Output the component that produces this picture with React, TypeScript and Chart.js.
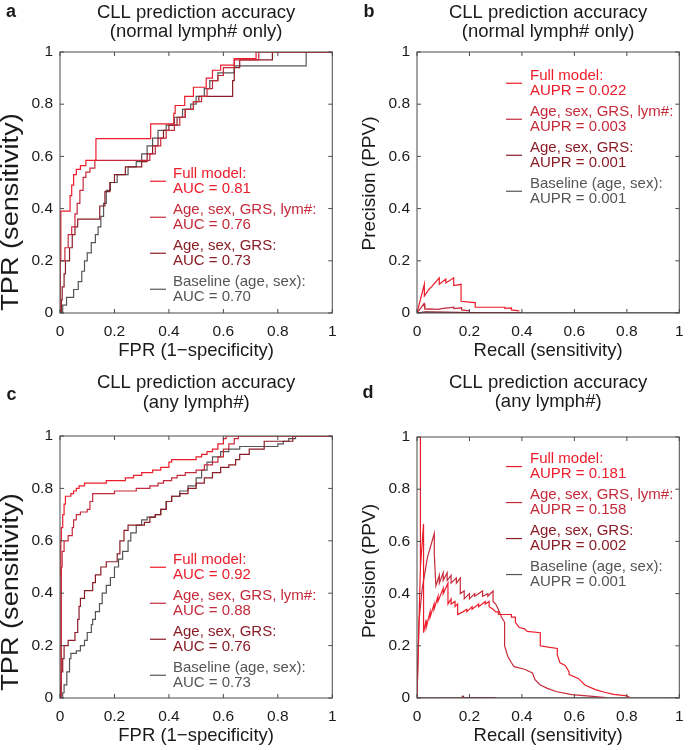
import React, { useEffect, useRef } from 'react';
import { Chart, registerables } from 'chart.js';
Chart.register(...registerables);

type Pt = [number, number];

const FONT = '"Liberation Sans", Arial, Helvetica, sans-serif';
const TEXT_COLOR = '#1a1a1a';
const AXIS_COLOR = '#4a4a4a';

const SERIES_NAMES = ['Full model:', 'Age, sex, GRS, lym#:', 'Age, sex, GRS:', 'Baseline (age, sex):'];
const SERIES_COLORS = ['#ec1c2a', '#c52a3a', '#8a1c26', '#555555'];
const AUC_NORMAL = ['0.81', '0.76', '0.73', '0.70'];
const AUPR_NORMAL = ['0.022', '0.003', '0.001', '0.001'];
const AUC_ANY = ['0.92', '0.88', '0.76', '0.73'];
const AUPR_ANY = ['0.181', '0.158', '0.002', '0.001'];
const TITLE_MAIN = 'CLL prediction accuracy';
const SUB_NORMAL = '(normal lymph# only)';
const SUB_ANY = '(any lymph#)';
const TICK_VALUES = [0, 0.2, 0.4, 0.6, 0.8, 1];
const TICK_LABELS = ['0', '0.2', '0.4', '0.6', '0.8', '1'];

// ROC curves: (FPR at which TPR rises, new TPR)
const ROC_A_FULL: Pt[] = [[0,0],[0,0.2],[0.003,0.3],[0.003,0.39],[0.037,0.45],[0.043,0.49],[0.05,0.53],[0.06,0.55],[0.075,0.565],[0.095,0.585],[0.132,0.668],[0.333,0.725],[0.418,0.765],[0.423,0.795],[0.458,0.83],[0.49,0.865],[0.537,0.9],[0.56,0.93],[0.59,0.95],[0.64,0.975],[0.72,1],[1,1]];
const ROC_A_LYM: Pt[] = [[0,0],[0,0.2],[0.018,0.25],[0.03,0.3],[0.043,0.33],[0.055,0.38],[0.063,0.42],[0.073,0.47],[0.085,0.52],[0.095,0.54],[0.11,0.555],[0.128,0.585],[0.33,0.61],[0.35,0.64],[0.37,0.67],[0.39,0.7],[0.42,0.72],[0.44,0.75],[0.46,0.78],[0.49,0.81],[0.52,0.83],[0.54,0.86],[0.56,0.89],[0.58,0.91],[0.6,0.94],[0.64,0.97],[0.73,1],[1,1]];
const ROC_A_GRS: Pt[] = [[0,0],[0.005,0.05],[0.008,0.1],[0.015,0.15],[0.02,0.2],[0.035,0.25],[0.045,0.3],[0.055,0.33],[0.065,0.36],[0.146,0.41],[0.165,0.465],[0.183,0.5],[0.2,0.53],[0.24,0.56],[0.3,0.58],[0.32,0.61],[0.34,0.64],[0.36,0.67],[0.38,0.7],[0.4,0.72],[0.43,0.75],[0.46,0.78],[0.49,0.81],[0.51,0.83],[0.634,0.89],[0.64,0.94],[0.66,0.97],[0.78,1],[1,1]];
const ROC_A_BASE: Pt[] = [[0,0],[0.01,0.03],[0.024,0.06],[0.05,0.09],[0.067,0.12],[0.08,0.16],[0.09,0.2],[0.1,0.23],[0.115,0.27],[0.13,0.3],[0.14,0.33],[0.15,0.37],[0.16,0.42],[0.17,0.47],[0.185,0.5],[0.21,0.53],[0.25,0.56],[0.28,0.58],[0.3,0.61],[0.32,0.64],[0.34,0.67],[0.36,0.7],[0.39,0.72],[0.42,0.75],[0.45,0.78],[0.48,0.8],[0.5,0.83],[0.53,0.86],[0.55,0.89],[0.58,0.92],[0.64,0.947],[0.904,1],[1,1]];

const ROC_C_FULL: Pt[] = [[0,0],[0,0.47],[0.003,0.6],[0.005,0.65],[0.01,0.7],[0.015,0.74],[0.02,0.77],[0.04,0.78],[0.05,0.79],[0.06,0.8],[0.07,0.81],[0.09,0.82],[0.17,0.83],[0.24,0.84],[0.27,0.85],[0.3,0.86],[0.34,0.87],[0.37,0.88],[0.4,0.9],[0.41,0.91],[0.5,0.92],[0.52,0.93],[0.54,0.94],[0.56,0.95],[0.58,0.97],[0.6,0.99],[0.61,1],[1,1]];
const ROC_C_LYM: Pt[] = [[0,0],[0.005,0.5],[0.008,0.56],[0.015,0.6],[0.03,0.62],[0.045,0.65],[0.05,0.68],[0.06,0.7],[0.075,0.71],[0.1,0.72],[0.11,0.75],[0.12,0.78],[0.2,0.79],[0.28,0.8],[0.33,0.81],[0.36,0.82],[0.38,0.83],[0.41,0.84],[0.43,0.85],[0.46,0.86],[0.5,0.87],[0.53,0.89],[0.56,0.9],[0.58,0.92],[0.6,0.95],[0.62,0.97],[0.64,0.99],[0.655,1],[1,1]];
const ROC_C_GRS: Pt[] = [[0,0],[0.002,0.05],[0.005,0.1],[0.01,0.15],[0.015,0.2],[0.03,0.22],[0.055,0.25],[0.065,0.3],[0.07,0.35],[0.075,0.38],[0.09,0.41],[0.12,0.44],[0.13,0.47],[0.15,0.5],[0.17,0.52],[0.21,0.55],[0.22,0.6],[0.235,0.64],[0.25,0.66],[0.31,0.67],[0.33,0.69],[0.35,0.7],[0.37,0.72],[0.39,0.75],[0.41,0.77],[0.44,0.78],[0.47,0.8],[0.5,0.82],[0.53,0.84],[0.56,0.86],[0.59,0.88],[0.62,0.89],[0.645,0.91],[0.66,0.93],[0.695,0.95],[0.75,0.98],[0.855,1],[1,1]];
const ROC_C_BASE: Pt[] = [[0,0],[0.01,0.02],[0.015,0.05],[0.025,0.1],[0.035,0.15],[0.04,0.17],[0.06,0.18],[0.075,0.2],[0.09,0.22],[0.1,0.25],[0.115,0.28],[0.12,0.3],[0.13,0.33],[0.145,0.36],[0.155,0.4],[0.17,0.43],[0.185,0.46],[0.2,0.5],[0.215,0.53],[0.23,0.56],[0.25,0.6],[0.26,0.63],[0.28,0.66],[0.3,0.68],[0.32,0.69],[0.35,0.7],[0.37,0.72],[0.39,0.75],[0.41,0.77],[0.44,0.79],[0.47,0.81],[0.5,0.84],[0.52,0.87],[0.54,0.9],[0.56,0.92],[0.59,0.94],[0.62,0.95],[0.66,0.96],[0.8,0.97],[0.82,0.98],[0.84,0.99],[0.865,1],[1,1]];

// Precision-recall curves: (recall, precision) vertices
const PR_B_FULL: Pt[] = [[0,0],[0.028,0.11],[0.028,0.065],[0.045,0.09],[0.055,0.1],[0.085,0.135],[0.085,0.11],[0.11,0.13],[0.11,0.115],[0.14,0.135],[0.14,0.105],[0.168,0.11],[0.168,0.045],[0.2,0.042],[0.222,0.04],[0.222,0.022],[0.335,0.022],[0.335,0.018],[0.36,0.02],[0.36,0.012],[0.39,0.008]];
const PR_B_LYM: Pt[] = [[0,0],[0.027,0.036],[0.03,0.015],[0.05,0.016],[0.08,0.014],[0.1,0.018],[0.12,0.02],[0.14,0.022],[0.14,0.017],[0.17,0.02],[0.17,0.012],[0.2,0.008]];
const PR_B_GRS: Pt[] = [[0,0],[0.03,0.004],[0.1,0.003],[0.2,0.002],[0.4,0.001]];
const PR_B_BASE: Pt[] = [[0,0],[0.2,0.001],[1,0.001]];

const PR_D_FULL: Pt[] = [[0,0],[0.013,0.5],[0.013,1],[0.013,0.5],[0.025,0.667],[0.025,0.25],[0.035,0.3],[0.035,0.27],[0.05,0.33],[0.05,0.31],[0.065,0.36],[0.065,0.34],[0.08,0.39],[0.08,0.37],[0.1,0.42],[0.1,0.4],[0.118,0.44],[0.118,0.36],[0.13,0.38],[0.13,0.36],[0.145,0.37],[0.145,0.35],[0.155,0.36],[0.155,0.32],[0.175,0.33],[0.19,0.34],[0.19,0.33],[0.21,0.35],[0.21,0.34],[0.235,0.36],[0.235,0.35],[0.26,0.37],[0.26,0.36],[0.275,0.37],[0.275,0.35],[0.29,0.34],[0.3,0.33],[0.31,0.33],[0.31,0.32],[0.345,0.32],[0.36,0.32],[0.36,0.31],[0.375,0.31],[0.375,0.29],[0.39,0.27],[0.41,0.265],[0.42,0.255],[0.47,0.25],[0.47,0.2],[0.5,0.195],[0.535,0.19],[0.535,0.165],[0.545,0.135],[0.565,0.125],[0.58,0.1],[0.58,0.09],[0.615,0.075],[0.64,0.05],[0.68,0.032],[0.715,0.022],[0.75,0.014],[0.8,0.008],[0.81,0.004]];
const PR_D_LYM: Pt[] = [[0,0],[0.008,0.3],[0.02,0.42],[0.04,0.54],[0.066,0.63],[0.066,0.55],[0.072,0.43],[0.085,0.47],[0.085,0.44],[0.1,0.48],[0.1,0.45],[0.115,0.48],[0.115,0.45],[0.13,0.47],[0.13,0.44],[0.15,0.46],[0.15,0.44],[0.165,0.46],[0.165,0.4],[0.18,0.41],[0.18,0.38],[0.2,0.4],[0.2,0.38],[0.22,0.4],[0.22,0.39],[0.25,0.41],[0.25,0.39],[0.27,0.4],[0.27,0.39],[0.29,0.41],[0.29,0.37],[0.3,0.36],[0.31,0.34],[0.322,0.31],[0.334,0.29],[0.334,0.2],[0.346,0.16],[0.36,0.135],[0.37,0.12],[0.41,0.11],[0.44,0.096],[0.45,0.07],[0.47,0.05],[0.495,0.038],[0.53,0.025],[0.59,0.013],[0.67,0.006],[0.72,0.002]];
const PR_D_GRS: Pt[] = [[0,0],[0.17,0.001],[0.175,0.008],[0.18,0.001],[0.3,0.001]];
const PR_D_BASE: Pt[] = [[0,0],[1,0.001]];

interface PanelSpec {
  left: number; top: number; width: number; height: number;
  area: { l: number; r: number; t: number; b: number };
  letter: string; letterPos: [number, number];
  subtitle: string; titleY: [number, number];
  xTitle: string; yTitle: string; yTitleSize: number; yTitleStretch: number; yTitlePos: [number, number];
  series: Pt[][]; stepped: boolean;
  metric: string; metricVals: string[];
  legend: { lineX: number; textX: number; firstY: number };
}

const PANELS: PanelSpec[] = [
  { left: 0, top: 0, width: 346, height: 370, area: { l: 60, r: 333, t: 52, b: 313 },
    letter: 'a', letterPos: [11, 12.5], subtitle: SUB_NORMAL, titleY: [12.7, 31.7],
    xTitle: 'FPR (1\u2212specificity)', yTitle: 'TPR (sensitivity)', yTitleSize: 23, yTitleStretch: 1.18, yTitlePos: [11.7, 212],
    series: [ROC_A_FULL, ROC_A_LYM, ROC_A_GRS, ROC_A_BASE], stepped: true,
    metric: 'AUC', metricVals: AUC_NORMAL, legend: { lineX: 90, textX: 113, firstY: 122 } },
  { left: 346, top: 0, width: 347, height: 370, area: { l: 71, r: 342, t: 52, b: 313 },
    letter: 'b', letterPos: [23, 12], subtitle: SUB_NORMAL, titleY: [12.7, 31.7],
    xTitle: 'Recall (sensitivity)', yTitle: 'Precision (PPV)', yTitleSize: 19, yTitleStretch: 1, yTitlePos: [23.5, 183.5],
    series: [PR_B_FULL, PR_B_LYM, PR_B_GRS, PR_B_BASE], stepped: false,
    metric: 'AUPR', metricVals: AUPR_NORMAL, legend: { lineX: 89, textX: 113, firstY: 24 } },
  { left: 0, top: 370, width: 346, height: 380, area: { l: 60, r: 333, t: 66, b: 328 },
    letter: 'c', letterPos: [11.5, 25], subtitle: SUB_ANY, titleY: [13.3, 33],
    xTitle: 'FPR (1\u2212specificity)', yTitle: 'TPR (sensitivity)', yTitleSize: 23, yTitleStretch: 1.18, yTitlePos: [11.7, 222],
    series: [ROC_C_FULL, ROC_C_LYM, ROC_C_GRS, ROC_C_BASE], stepped: true,
    metric: 'AUC', metricVals: AUC_ANY, legend: { lineX: 90, textX: 113, firstY: 124 } },
  { left: 346, top: 370, width: 347, height: 380, area: { l: 71, r: 343, t: 67, b: 328 },
    letter: 'd', letterPos: [22, 23], subtitle: SUB_ANY, titleY: [13.3, 32],
    xTitle: 'Recall (sensitivity)', yTitle: 'Precision (PPV)', yTitleSize: 19, yTitleStretch: 1, yTitlePos: [23.5, 201],
    series: [PR_D_FULL, PR_D_LYM, PR_D_GRS, PR_D_BASE], stepped: false,
    metric: 'AUPR', metricVals: AUPR_ANY, legend: { lineX: 89, textX: 113, firstY: 22.3 } },
];

function Panel({ spec }: { spec: PanelSpec }) {
  const ref = useRef<HTMLCanvasElement | null>(null);
  useEffect(() => {
    if (!ref.current) return;
    const { width: w, height: h, area } = spec;
    const titleSize = 18.5;
    const xTitleBottom = h - area.b - 38 - (titleSize * 1.2) / 2;

    const decor = {
      id: 'decor',
      afterDatasetsDraw(chart: any) {
        const { ctx, chartArea: ca, scales } = chart;
        ctx.save();
        ctx.strokeStyle = AXIS_COLOR;
        ctx.lineWidth = 1;
        ctx.strokeRect(ca.left, ca.top, ca.right - ca.left, ca.bottom - ca.top);
        const tl = 4;
        ctx.beginPath();
        TICK_VALUES.forEach((v) => {
          const px = scales.x.getPixelForValue(v);
          ctx.moveTo(px, ca.bottom); ctx.lineTo(px, ca.bottom - tl);
          ctx.moveTo(px, ca.top); ctx.lineTo(px, ca.top + tl);
          const py = scales.y.getPixelForValue(v);
          ctx.moveTo(ca.left, py); ctx.lineTo(ca.left + tl, py);
          ctx.moveTo(ca.right, py); ctx.lineTo(ca.right - tl, py);
        });
        ctx.stroke();
        const lh = 14.5;
        const spacing = 36;
        ctx.font = `15px ${FONT}`;
        ctx.textAlign = 'left';
        ctx.textBaseline = 'middle';
        SERIES_NAMES.forEach((name, i) => {
          const color = SERIES_COLORS[i];
          const y0 = ca.top + spec.legend.firstY + i * spacing;
          ctx.fillStyle = color;
          ctx.fillText(name, ca.left + spec.legend.textX, y0);
          ctx.fillText(`${spec.metric} = ${spec.metricVals[i]}`, ca.left + spec.legend.textX, y0 + lh);
          ctx.strokeStyle = color;
          ctx.lineWidth = 1.2;
          ctx.beginPath();
          ctx.moveTo(ca.left + spec.legend.lineX, y0 + lh / 2);
          ctx.lineTo(ca.left + spec.legend.lineX + 16, y0 + lh / 2);
          ctx.stroke();
        });
        ctx.restore();
      },
      afterDraw(chart: any) {
        const { ctx, chartArea: ca } = chart;
        ctx.save();
        ctx.fillStyle = TEXT_COLOR;
        ctx.textBaseline = 'middle';
        ctx.font = `bold 18px ${FONT}`;
        ctx.textAlign = 'center';
        ctx.fillText(spec.letter, spec.letterPos[0], spec.letterPos[1]);
        ctx.font = `${titleSize}px ${FONT}`;
        const cx = (ca.left + ca.right) / 2;
        ctx.fillText(TITLE_MAIN, cx, spec.titleY[0]);
        ctx.fillText(spec.subtitle, cx, spec.titleY[1]);
        ctx.font = `${spec.yTitleSize}px ${FONT}`;
        ctx.translate(spec.yTitlePos[0], spec.yTitlePos[1]);
        ctx.rotate(-Math.PI / 2);
        ctx.scale(spec.yTitleStretch, 1);
        ctx.fillText(spec.yTitle, 0, 0);
        ctx.restore();
      },
    };

    const tickOpts = (padding: number) => ({
      callback: (v: any) => TICK_LABELS[TICK_VALUES.indexOf(Number(v))] ?? '',
      font: { family: FONT, size: 15.5 },
      color: TEXT_COLOR,
      padding,
      maxRotation: 0,
      autoSkip: false,
    });

    const chart = new Chart(ref.current, {
      type: 'line',
      data: {
        datasets: spec.series.map((s, i) => ({
          label: SERIES_NAMES[i],
          data: s.map(([x, y]) => ({ x, y })),
          borderColor: SERIES_COLORS[i],
          backgroundColor: SERIES_COLORS[i],
          borderWidth: 1.2,
          pointRadius: 0,
          fill: false,
          tension: 0,
          stepped: spec.stepped ? 'before' : false,
        })),
      },
      options: {
        responsive: false,
        animation: false,
        devicePixelRatio: 1,
        layout: { padding: { left: 0, right: w - area.r, top: area.t, bottom: 0 } },
        plugins: { legend: { display: false }, tooltip: { enabled: false }, title: { display: false } },
        scales: {
          x: {
            type: 'linear', min: 0, max: 1,
            afterBuildTicks: (s: any) => { s.ticks = TICK_VALUES.map((v) => ({ value: v })); },
            afterFit: (s: any) => { s.height = h - area.b; },
            grid: { display: false, drawTicks: false },
            border: { display: false },
            ticks: tickOpts(9.4),
            title: { display: true, text: spec.xTitle, color: TEXT_COLOR, font: { family: FONT, size: titleSize }, padding: { top: 0, bottom: xTitleBottom } },
          },
          y: {
            type: 'linear', min: 0, max: 1,
            afterBuildTicks: (s: any) => { s.ticks = TICK_VALUES.map((v) => ({ value: v })); },
            afterFit: (s: any) => { s.width = area.l; },
            grid: { display: false, drawTicks: false },
            border: { display: false },
            ticks: tickOpts(7),
          },
        },
      } as any,
      plugins: [decor],
    });
    return () => chart.destroy();
  }, [spec]);
  return (
    <canvas
      ref={ref}
      width={spec.width}
      height={spec.height}
      style={{ position: 'absolute', left: spec.left, top: spec.top, width: spec.width, height: spec.height }}
    />
  );
}

export default function App() {
  return (
    <div style={{ position: 'absolute', left: 0, top: 0, width: 693, height: 750, background: '#fff' }}>
      {PANELS.map((p) => <Panel key={p.letter} spec={p} />)}
    </div>
  );
}
